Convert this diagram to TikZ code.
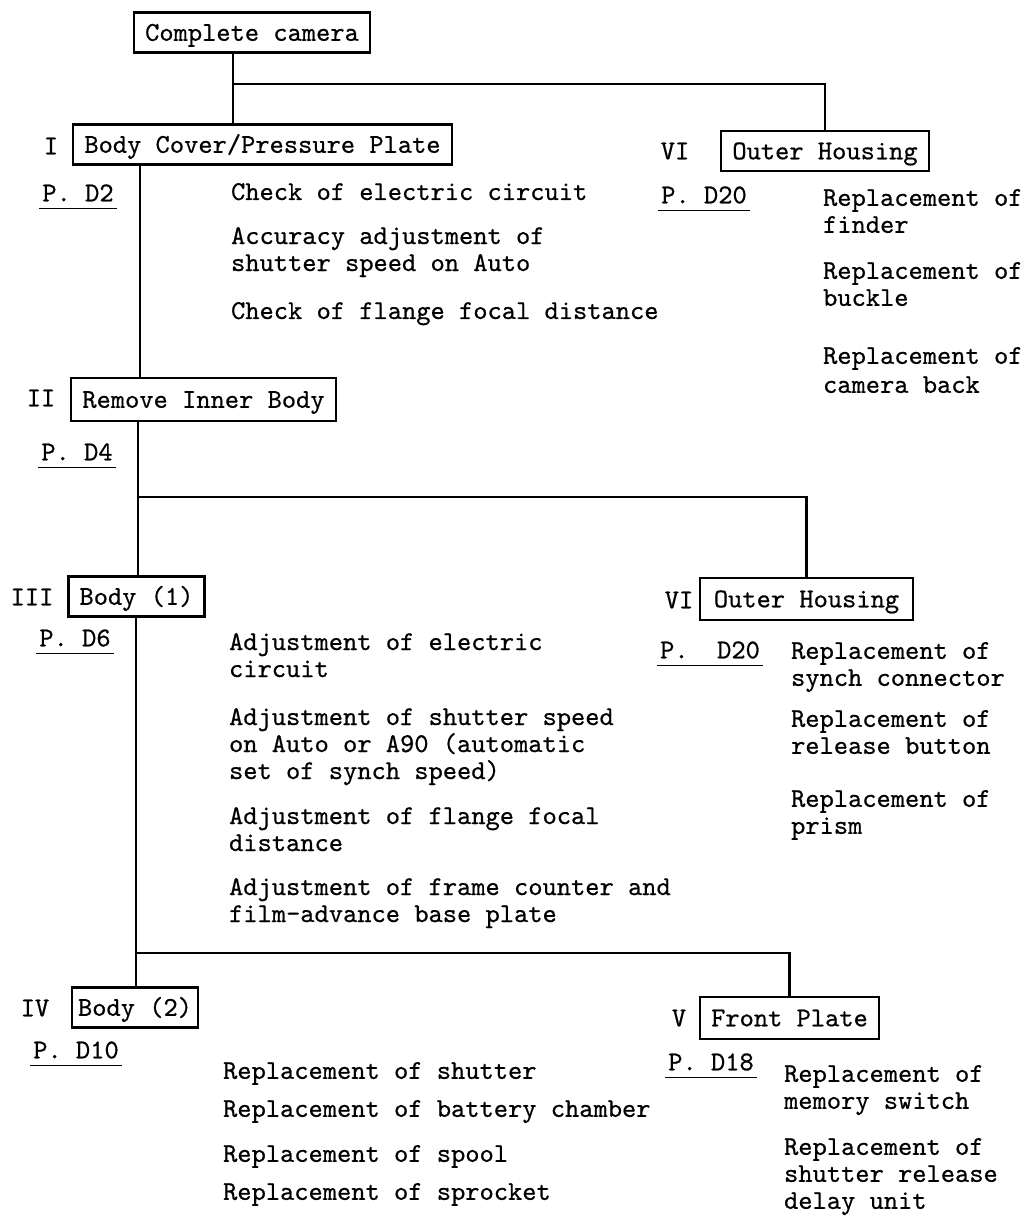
\documentclass[tikz,border=0pt]{standalone}
\usepackage{fontspec}
\setmonofont{lmmono10-regular}[Extension=.otf, FakeBold=0.6]
\begin{document}
\begin{tikzpicture}[x=0.5pt, y=-0.5pt, line width=1.1pt,
	font=\ttfamily\frenchspacing\fontsize{13.57}{13.5}\selectfont,
	box/.style={draw, inner xsep=5.5pt, inner ysep=0pt, minimum height=20pt, text height=8.3pt, text depth=0pt},
	num/.style={inner sep=0pt, text height=8.3pt, text depth=0pt},
	page/.style={inner xsep=1pt, inner ysep=3pt, text height=8.3pt, text depth=0pt},
	item/.style={inner sep=0pt, anchor=north west, align=left}]
	\useasboundingbox (0,0) rectangle (1026,1219);
	% top
	\node[box] (cam) at (252,32.5) {Complete camera};
	% I
	\node[box] (b1) at (262.5,144.5) {Body Cover/Pressure Plate};
	\node[num] (n1) at (51,146) {I};
	\node[page] (p1) at (78,193) {P. D2};
	\node[item] (c1) at (230,182) {Check of electric circuit};
	\node[item] (c2) at (230,226) {Accuracy adjustment of\\shutter speed on Auto};
	\node[item] (c3) at (230,301) {Check of flange focal distance};
	% VI (upper)
	\node[box] (b6) at (825,151) {Outer Housing};
	\node[num] (n6) at (675,151) {VI};
	\node[page] (p6) at (704,195) {P. D20};
	\node[item] (h1) at (822,188) {Replacement of\\finder};
	\node[item] (h2) at (822,261) {Replacement of\\buckle};
	\node[item] (h3) at (822,346) {Replacement of\\[1pt]camera back};
	% II
	\node[box, minimum height=21.5pt] (b2) at (203.5,399.5) {Remove Inner Body};
	\node[num] (n2) at (41,398) {II};
	\node[page] (p2) at (77,452) {P. D4};
	% III
	\node[box] (b3) at (136.5,596.5) {Body (1)};
	\node[num] (n3) at (32,597) {III};
	\node[page] (p3) at (75,638) {P. D6};
	\node[item] (a1) at (228,632) {Adjustment of electric\\circuit};
	\node[item] (a2) at (228,707) {Adjustment of shutter speed\\on Auto or A90 (automatic\\set of synch speed)};
	\node[item] (a3) at (228,806) {Adjustment of flange focal\\distance};
	\node[item] (a4) at (228,877) {Adjustment of frame counter and\\film-advance base plate};
	% VI (lower)
	\node[box, inner xsep=7pt, minimum height=21pt] (b7) at (806.5,599) {Outer Housing};
	\node[num] (n7) at (679,600) {VI};
	\node[page] (p7) at (710,650) {P.~~D20};
	\node[item] (g1) at (790,641) {Replacement of\\synch connector};
	\node[item] (g2) at (790,709) {Replacement of\\release button};
	\node[item] (g3) at (790,789) {Replacement of\\prism};
	% IV
	\node[box, inner xsep=3pt] (b4) at (135,1007.5) {Body (2)};
	\node[num] (n4) at (35,1008) {IV};
	\node[page] (p4) at (76,1050) {P. D10};
	\node[item] (r1) at (222,1061) {Replacement of shutter};
	\node[item] (r2) at (222,1099) {Replacement of battery chamber};
	\node[item] (r3) at (222,1144) {Replacement of spool};
	\node[item] (r4) at (222,1182) {Replacement of sprocket};
	% V
	\node[box, minimum height=21pt] (b5) at (789.5,1018) {Front Plate};
	\node[num] (n5) at (679,1018) {V};
	\node[page] (p5) at (711,1062) {P. D18};
	\node[item] (f1) at (783,1064) {Replacement of\\memory switch};
	\node[item] (f2) at (783,1137) {Replacement of\\shutter release\\delay unit};
	% tree lines
	\coordinate (j1) at (233,84);
	\coordinate (t1) at (140,0);
	\coordinate (t2) at (138,497);
	\coordinate (t3) at (136,953);
	\draw (j1 |- cam.south) -- (j1 |- b1.north);
	\draw (j1) -| (b6.north);
	\draw (t1 |- b1.south) -- (t1 |- b2.north);
	\draw (t2 |- b2.south) -- (t2 |- b3.north);
	\draw (t2) -| (b7.north);
	\draw (t3 |- b3.south) -- (t3 |- b4.north);
	\draw (t3) -| (b5.north);
	% underlines
	\foreach \p in {p1,p2,p3,p4,p5,p6,p7}
		\draw[line width=0.8pt] (\p.south west) -- (\p.south east);
\end{tikzpicture}
\end{document}
